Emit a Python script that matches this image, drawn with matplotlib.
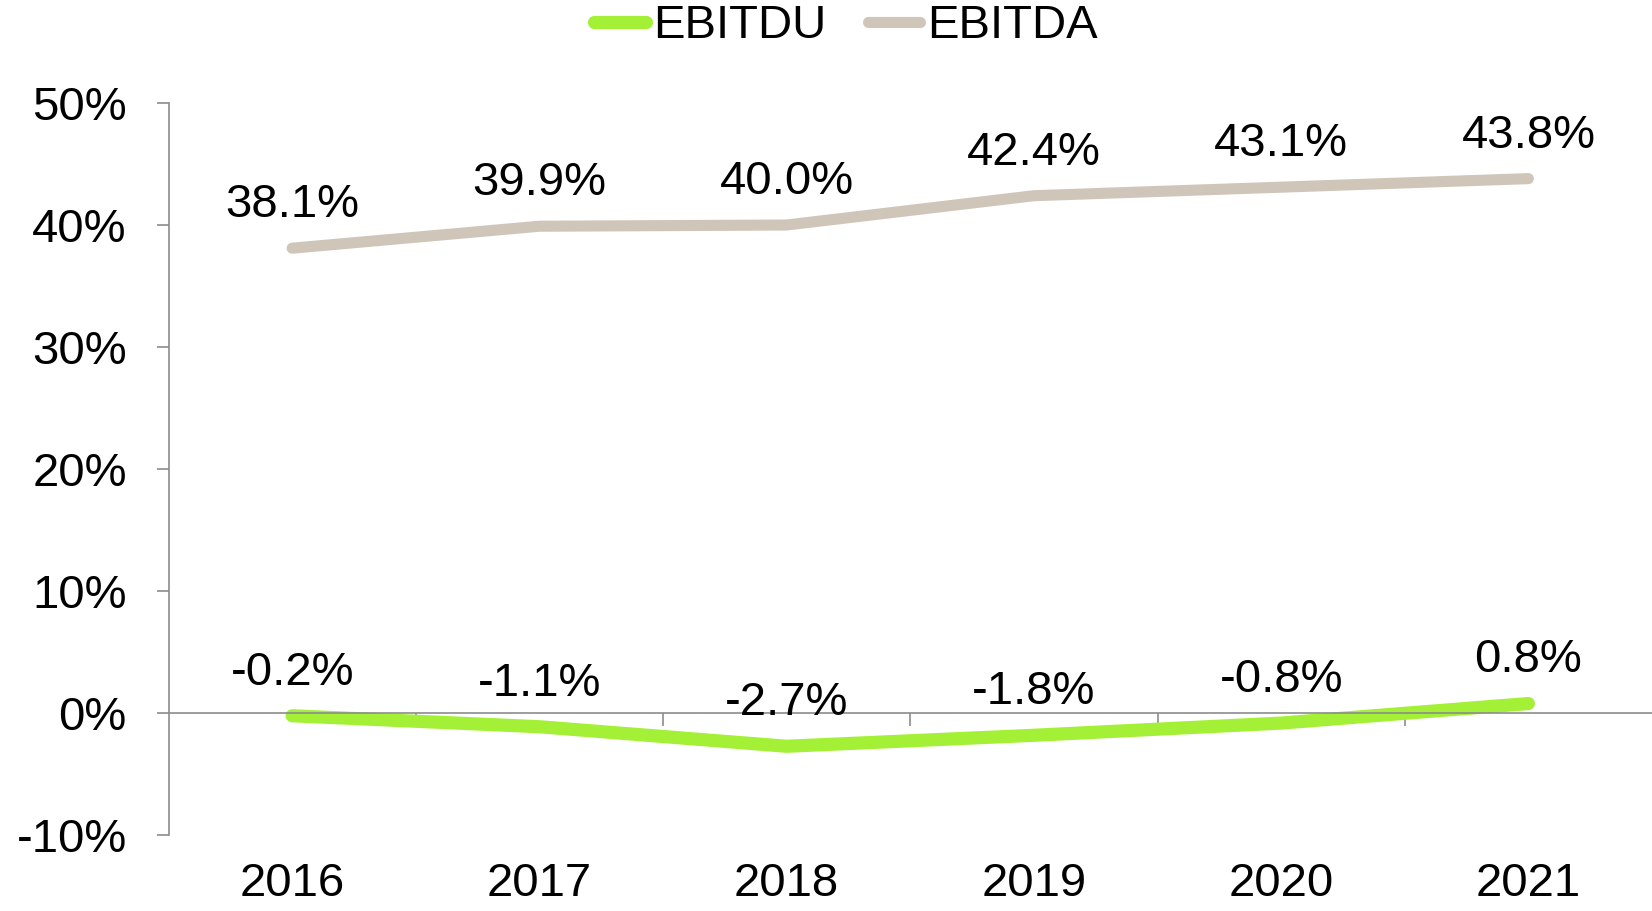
import matplotlib
matplotlib.use("Agg")
import matplotlib.pyplot as plt
from matplotlib.ticker import FixedLocator

years = ["2016", "2017", "2018", "2019", "2020", "2021"]
ebitdu = [-0.2, -1.1, -2.7, -1.8, -0.8, 0.8]
ebitda = [38.1, 39.9, 40.0, 42.4, 43.1, 43.8]
yticks = [-10, 0, 10, 20, 30, 40, 50]

plt.rcParams['font.family'] = ['Liberation Sans', 'DejaVu Sans']

GREEN = '#A3F037'
GRAY = '#CFC6B9'
AXC = '#8C8C8C'
FS = 34

fig = plt.figure(figsize=(16.52, 9.11), dpi=100)
ax = fig.add_axes([0.102, 0.083, 0.898, 0.804])

x = list(range(len(years)))
l1, = ax.plot(x, ebitdu, color=GREEN, lw=9.5, solid_capstyle='round', solid_joinstyle='round', label='EBITDU')
l2, = ax.plot(x, ebitda, color=GRAY, lw=8, solid_capstyle='round', solid_joinstyle='round', label='EBITDA')

for xi, v in zip(x, ebitdu):
    ax.annotate(f"{v:.1f}%", (xi, v), xytext=(0, 31), textcoords='offset points',
                ha='center', va='center', fontsize=FS)
for xi, v in zip(x, ebitda):
    ax.annotate(f"{v:.1f}%", (xi, v), xytext=(0, 31), textcoords='offset points',
                ha='center', va='center', fontsize=FS)

ax.set_xlim(-0.5, len(years) - 0.5)
ax.set_ylim(-10, 50)
ax.set_yticks(yticks)
ax.set_yticklabels([f"{t}%" for t in yticks])

for s in ['top', 'right']:
    ax.spines[s].set_visible(False)
ax.spines['left'].set_color(AXC)
ax.spines['left'].set_linewidth(1.2)
ax.spines['bottom'].set_position(('data', 0))
ax.spines['bottom'].set_color(AXC)
ax.spines['bottom'].set_linewidth(1.2)

ax.tick_params(axis='y', direction='out', length=9, width=1.2, color=AXC,
               labelsize=FS, pad=21)
ax.set_xticks([])
ax.xaxis.set_minor_locator(FixedLocator([i + 0.5 for i in range(len(years) - 1)]))
ax.tick_params(axis='x', which='minor', direction='out', length=9, width=1.2, color=AXC)

sec = ax.secondary_xaxis(0)
sec.set_xticks(x)
sec.set_xticklabels(years)
sec.tick_params(length=0, labelsize=FS, pad=19)
sec.spines['bottom'].set_visible(False)

fig.legend(handles=[l1, l2], loc='center', bbox_to_anchor=(0.512, 0.971), ncol=2,
           frameon=False, fontsize=FS, handlelength=1.1, handletextpad=0.15,
           columnspacing=0.9, borderaxespad=0)

fig.savefig("out.png", dpi=100)
